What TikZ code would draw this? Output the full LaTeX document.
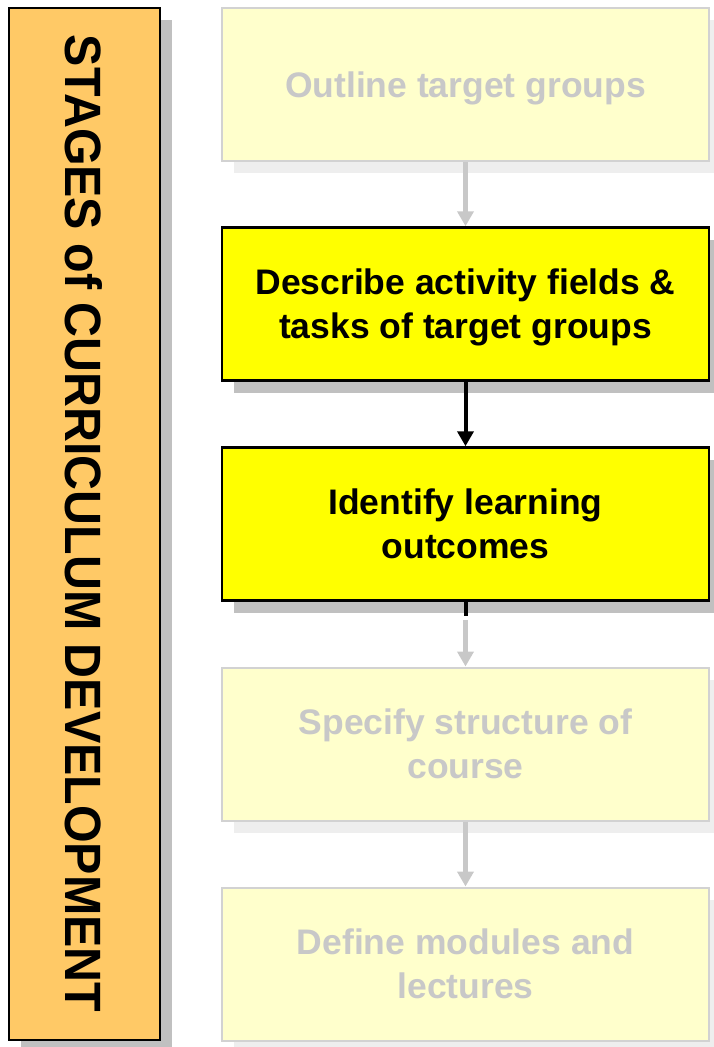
\documentclass[tikz,border=0pt]{standalone}
\usepackage{fontspec}
\setmainfont{Liberation Sans}
\usetikzlibrary{arrows.meta,shadows}
\definecolor{barfill}{HTML}{FFC966}
\definecolor{fadefill}{HTML}{FFFFCC}
\definecolor{fadeline}{HTML}{D2D2D2}
\definecolor{fadetext}{HTML}{C8C8C8}
\definecolor{fadeshadow}{HTML}{EEEEEE}
\definecolor{darkshadow}{HTML}{C0C0C0}
\definecolor{activefill}{HTML}{FFFF00}
\tikzset{
  stagebox/.style={rectangle, minimum width=487pt, minimum height=153pt, inner sep=0pt,
    align=center, text depth=0pt, font=\fontsize{35.5}{44}\selectfont\bfseries},
  fadedbox/.style={stagebox, draw=fadeline, line width=2pt, fill=fadefill, text=fadetext,
    drop shadow={shadow xshift=12pt, shadow yshift=-12pt, fill=fadeshadow, opacity=1}},
  activebox/.style={stagebox, draw=black, line width=2.5pt, fill=activefill, text=black,
    drop shadow={shadow xshift=12pt, shadow yshift=-12pt, fill=darkshadow, opacity=1}},
  sidebar/.style={rectangle, draw=black, line width=2.5pt, fill=barfill, inner sep=0pt,
    minimum width=151pt, minimum height=1032pt,
    drop shadow={shadow xshift=12pt, shadow yshift=-12pt, fill=darkshadow, opacity=1}},
  fadearrow/.style={draw=fadetext, line width=4.5pt, -{Triangle[width=16pt,length=15pt]}},
  activearrow/.style={draw=black, line width=4pt, -{Triangle[width=16pt,length=15pt]}},
  activeline/.style={draw=black, line width=4pt},
}
\begin{document}
\begin{tikzpicture}[x=1pt,y=-1pt]
\useasboundingbox (0,0) rectangle (714,1047);
\node[sidebar] (bar) at (84.5,524) {};
\node[rotate=-90, inner sep=0pt] (bartext) at (83.5,523.5)
  {\resizebox{977pt}{37pt}{\bfseries STAGES of CURRICULUM DEVELOPMENT}};
\node[fadedbox] (b1) at (465.5,84.5) {Outline target groups};
\node[activebox] (b2) at (465.5,304) {Describe activity fields \&\\tasks of target groups};
\node[activebox] (b3) at (465.5,524) {Identify learning\\outcomes};
\node[fadedbox] (b4) at (465.5,744) {Specify structure of\\course};
\node[fadedbox] (b5) at (465.5,964) {Define modules and\\lectures};
\coordinate (s3) at ([yshift=-18pt]b3.south);
\draw[fadearrow] (b1.south) -- (b2.north);
\draw[activearrow] (b2.south) -- (b3.north);
\draw[activeline] (b3.south) -- ([yshift=-14pt]b3.south);
\draw[fadearrow] (s3) -- (b4.north);
\draw[fadearrow] (b4.south) -- (b5.north);
\end{tikzpicture}
\end{document}
